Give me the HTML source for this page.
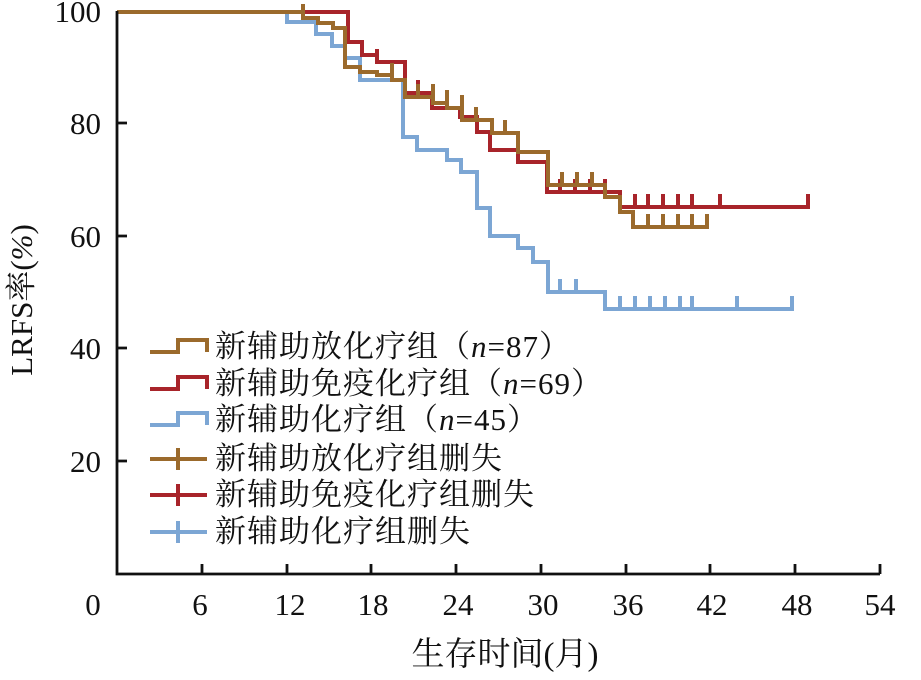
<!DOCTYPE html>
<html><head><meta charset="utf-8"><style>
html,body{margin:0;padding:0;background:#fff;}
svg{display:block;}
text{font-family:"Liberation Serif","Noto Serif CJK SC",serif;fill:#111;}
</style></head><body>
<svg width="921" height="680" viewBox="0 0 921 680" xmlns="http://www.w3.org/2000/svg">
<g fill="none" stroke-width="4" stroke-linejoin="miter">
<path stroke="#7ca6d4" d="M117,12H287V22H316V34H332V46H345V58H360V80H403V137H417V150H447V160H461V172H477V208H490V236H518V248H533V262H548V292H605V309H792V296
M560,292V279 M576,292V279 M620,309V296 M635,309V296 M650,309V296 M665,309V296 M680,309V296 M692,309V296 M737,309V296"/>
<path stroke="#a8242a" d="M117,12H348V42H362V55H377V62H405V93H432V108H460V117H477V132H490V150H518V162H547V192H620V207H808V194
M377,62V49 M418,93V80 M560,192V179 M575,192V179 M590,192V179 M605,192V179 M635,207V194 M648,207V194 M663,207V194 M678,207V194 M692,207V194 M720,207V194"/>
<path stroke="#9b6a2c" d="M117,12H303V18H318V23H333V28H345V67H360V72H377V75H392V80H405V97H433V103H447V108H462V120H492V133H518V152H548V185H605V197H620V212H633V227H707V214
M303,12V4 M392,75V63 M418,97V84 M433,97V84 M447,103V90 M462,108V95 M476,120V107 M505,133V120 M562,185V172 M577,185V172 M592,185V172 M648,227V214 M663,227V214 M678,227V214 M692,227V214"/>
<path stroke="#9b6a2c" d="M150,352H178V340H207V352"/>
<path stroke="#a8242a" d="M150,389H178V377H207V389"/>
<path stroke="#7ca6d4" d="M150,425H178V413H207V425"/>
<path stroke="#9b6a2c" d="M150,459H207 M178,448V470"/>
<path stroke="#a8242a" d="M150,495H207 M178,484V506"/>
<path stroke="#7ca6d4" d="M150,532H207 M178,521V543"/>
</g>
<g stroke="#111" stroke-width="2.8" fill="none">
<path d="M117,11V574H880"/>
<path d="M117,123H127 M117,236H127 M117,348H127 M117,461H127"/>
<path d="M202,574V564 M287,574V564 M371,574V564 M456,574V564 M541,574V564 M626,574V564 M710,574V564 M795,574V564 M880,574V564"/>
</g>
<g font-size="31" text-anchor="end">
<text x="101" y="22">100</text>
<text x="101" y="134">80</text>
<text x="101" y="247">60</text>
<text x="101" y="359">40</text>
<text x="101" y="472">20</text>
</g>
<g font-size="31" text-anchor="middle">
<text x="93" y="615">0</text>
<text x="200" y="615">6</text>
<text x="290" y="615">12</text>
<text x="373" y="615">18</text>
<text x="458" y="615">24</text>
<text x="543" y="615">30</text>
<text x="628" y="615">36</text>
<text x="712" y="615">42</text>
<text x="797" y="615">48</text>
<text x="880" y="615">54</text>
</g>
<text x="505" y="665" font-size="33" text-anchor="middle">生存时间(月)</text>
<text transform="translate(32,300) rotate(-90)" font-size="31" text-anchor="middle">LRFS率(<tspan font-style="italic">%</tspan>)</text>
<g font-size="31" letter-spacing="1">
<text x="215" y="357">新辅助放化疗组（<tspan font-style="italic">n</tspan>=87）</text>
<text x="215" y="394">新辅助免疫化疗组（<tspan font-style="italic">n</tspan>=69）</text>
<text x="215" y="430">新辅助化疗组（<tspan font-style="italic">n</tspan>=45）</text>
<text x="215" y="469">新辅助放化疗组删失</text>
<text x="215" y="505">新辅助免疫化疗组删失</text>
<text x="215" y="542">新辅助化疗组删失</text>
</g>
</svg>
</body></html>
